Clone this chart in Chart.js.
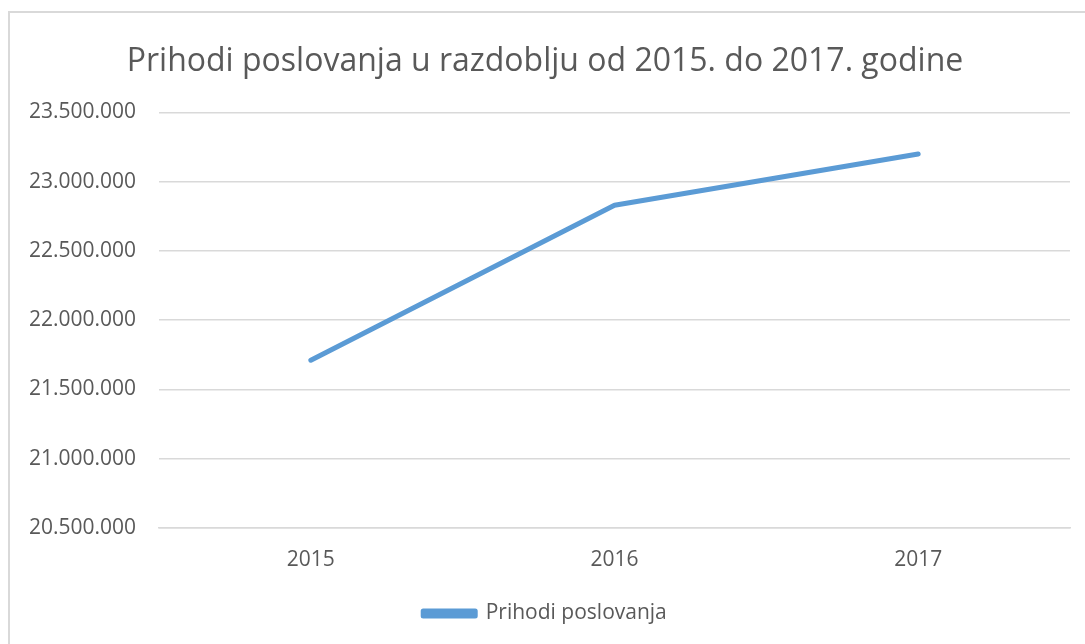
<!DOCTYPE html>
<html>
<head>
<meta charset="utf-8">
<script src="https://cdn.jsdelivr.net/npm/chart.js@4"></script>
<style>
    html, body { margin: 0; padding: 0; background: #fff; }
    #wrap { position: relative; width: 1085px; height: 644px; overflow: hidden; }
    #frame { position: absolute; left: 8px; top: 11px; width: 1200px; height: 700px;
             border-left: 2px solid #d9d9d9; border-top: 2px solid #d9d9d9; }
    canvas { position: absolute; left: 0; top: 0; }
</style>
</head>
<body>
<div id="wrap">
    <div id="frame"></div>
    <canvas id="prihodiChart" width="1085" height="644"></canvas>
</div>
<script>
// Chart data
const years = ['2015', '2016', '2017'];
const prihodi = [21710000, 22830000, 23200000];
const yMin = 20500000;
const yMax = 23500000;
const yStep = 500000;

document.addEventListener('DOMContentLoaded', function() {
    const ctx = document.getElementById('prihodiChart').getContext('2d');
    const blue = '#5b9bd5';
    const grey = '#595959';

    // thousands separator with dots (hr)
    function formatNumber(v) {
        return String(Math.round(v)).replace(/\B(?=(\d{3})+(?!\d))/g, '.');
    }

    new Chart(ctx, {
        type: 'line',
        data: {
            labels: years,
            datasets: [{
                label: 'Prihodi poslovanja',
                data: prihodi,
                borderColor: blue,
                backgroundColor: blue,
                borderWidth: 5,
                borderCapStyle: 'round',
                borderJoinStyle: 'round',
                pointRadius: 0,
                pointHoverRadius: 0,
                tension: 0
            }]
        },
        options: {
            responsive: false,
            animation: false,
            layout: {
                padding: { top: 20, left: 20, right: 15, bottom: 10 }
            },
            scales: {
                x: {
                    offset: true,
                    grid: { display: false, drawTicks: false },
                    border: { display: true, color: '#d9d9d9', width: 1.5 },
                    ticks: {
                        color: grey,
                        padding: 20,
                        font: { family: 'Open Sans', size: 21 }
                    }
                },
                y: {
                    min: yMin,
                    max: yMax,
                    afterFit: function(scale) { scale.width = 139; },
                    grid: { color: '#d9d9d9', lineWidth: 1.5, drawTicks: false },
                    border: { display: false },
                    ticks: {
                        stepSize: yStep,
                        color: grey,
                        padding: 23,
                        font: { family: 'Open Sans', size: 21 },
                        callback: function(value) { return formatNumber(value); }
                    }
                }
            },
            plugins: {
                title: {
                    display: true,
                    text: 'Prihodi poslovanja u razdoblju od 2015. do 2017. godine',
                    color: grey,
                    font: { family: 'Open Sans', size: 32, weight: 'normal' },
                    padding: { top: 23, bottom: 31 }
                },
                legend: {
                    position: 'bottom',
                    labels: {
                        color: grey,
                        boxWidth: 52,
                        boxHeight: 5,
                        padding: 10,
                        font: { family: 'Open Sans', size: 21 }
                    }
                },
                tooltip: { enabled: false }
            }
        }
    });
});
</script>
</body>
</html>
